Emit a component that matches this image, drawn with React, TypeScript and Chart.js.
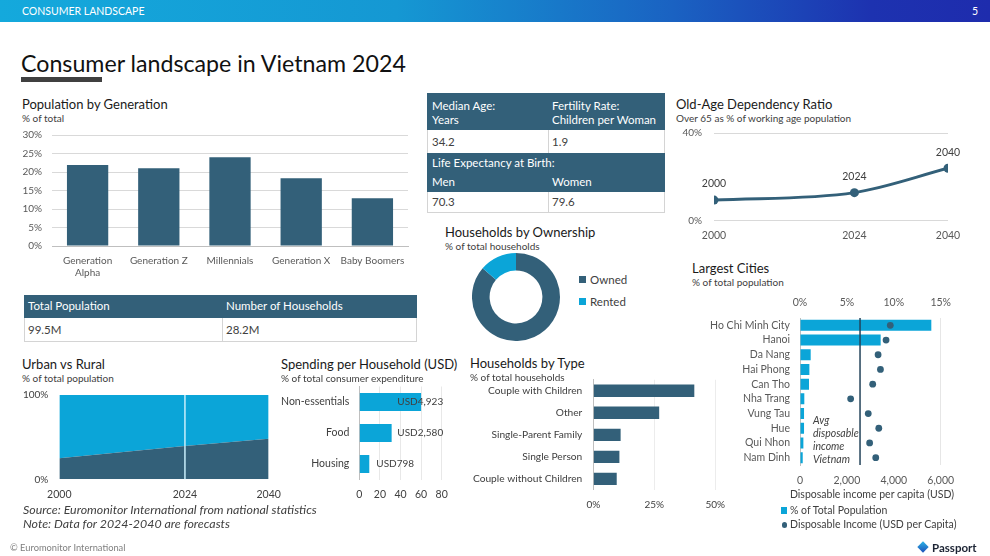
import React, { useEffect, useRef } from 'react';
import { Chart, registerables } from 'chart.js';

Chart.register(...registerables);

const FONT = 'Lato, "Open Sans", "DejaVu Sans", sans-serif';
Chart.defaults.font.family = FONT;
Chart.defaults.color = '#595959';

const DARK = '#336079';
const LIGHT = '#0ba5d8';
const GRID = '#d9d9d9';
const AXIS = '#bfbfbf';

// ---- Population by Generation (% of total) ----
const genCategories: (string | string[])[] = [['Generation', 'Alpha'], 'Generation Z', 'Millennials', 'Generation X', 'Baby Boomers'];
const genShare = [21.9, 21.0, 24.0, 18.3, 12.9];

// ---- Key statistics ----
const medianAge = '34.2';
const fertilityRate = '1.9';
const lifeExpMen = '70.3';
const lifeExpWomen = '79.6';
const totalPopulation = '99.5M';
const numHouseholds = '28.2M';

// ---- Old-age dependency ratio (%) ----
const oadYears = [2000, 2024, 2040];
const oadRatio = [9.4, 12.8, 23.9];

// ---- Households by ownership (%) ----
const ownLabels = ['Owned', 'Rented'];
const ownShare = [86.3, 13.7];

// ---- Largest cities ----
const cityNames = ['Ho Chi Minh City', 'Hanoi', 'Da Nang', 'Hai Phong', 'Can Tho', 'Nha Trang', 'Vung Tau', 'Hue', 'Qui Nhon', 'Nam Dinh'];
const cityPopShare = [14.0, 8.6, 1.14, 1.0, 0.96, 0.46, 0.43, 0.43, 0.36, 0.29];
const cityIncome = [3850, 3670, 3330, 3430, 3100, 2160, 2910, 3360, 2970, 3230];
const avgIncome = 2560;

// ---- Urban vs Rural (% of total population) ----
const urYears = [2000, 2024, 2040];
const urbanShare = [25.0, 39.5, 48.2];
const ruralShare = [75.0, 60.5, 51.8];
const forecastStart = 2024;

// ---- Spending per household ----
const spendCategories = ['Non-essentials', 'Food', 'Housing'];
const spendShare = [60.0, 31.4, 9.7];
const spendUSD = ['USD4,923', 'USD2,580', 'USD798'];

// ---- Households by type (%) ----
const hhTypes = ['Couple with Children', 'Other', 'Single-Parent Family', 'Single Person', 'Couple without Children'];
const hhShare = [41.4, 27.0, 11.2, 10.7, 9.6];

const tf = (size = 10) => ({ family: FONT, size });
const zeroPad = (s: any) => { s.paddingTop = 0; s.paddingBottom = 0; s.paddingLeft = 0; s.paddingRight = 0; };
const setW = (w: number) => (s: any) => { s.width = w; zeroPad(s); };
const setH = (h: number) => (s: any) => { s.height = h; zeroPad(s); };
const base = (pad: any) => ({
  animation: false,
  responsive: false,
  devicePixelRatio: 1,
  events: [],
  layout: { padding: pad },
  plugins: { legend: { display: false }, tooltip: { enabled: false } },
});
const NOGRID = { display: false, drawTicks: false };

function ChartBox({ x, y, w, h, make }: { x: number; y: number; w: number; h: number; make: () => any }) {
  const ref = useRef<HTMLCanvasElement>(null);
  useEffect(() => {
    const chart = new Chart(ref.current as HTMLCanvasElement, make());
    return () => chart.destroy();
  }, []);
  return (
    <div style={{ position: 'absolute', left: x, top: y, width: w, height: h }}>
      <canvas ref={ref} width={w} height={h} style={{ width: w, height: h, display: 'block' }} />
    </div>
  );
}

function T({ x, y, s = 10, c = '#404040', it = false, center = false, bold = false, children }: any) {
  return (
    <div
      style={{
        position: 'absolute',
        left: x,
        top: y - s * 0.65,
        fontSize: s,
        lineHeight: `${s * 1.3}px`,
        color: c,
        fontStyle: it ? 'italic' : 'normal',
        fontWeight: bold ? 700 : 400,
        whiteSpace: 'nowrap',
        transform: center ? 'translateX(-50%)' : undefined,
      }}
    >
      {children}
    </div>
  );
}

function Box({ x, y, w, h, bg = 'transparent', border }: any) {
  return <div style={{ position: 'absolute', left: x, top: y, width: w, height: h, background: bg, boxSizing: 'border-box', ...(border || {}) }} />;
}

// ---------- chart configs ----------
const popConfig = () => ({
  type: 'bar',
  data: { labels: genCategories, datasets: [{ data: genShare, backgroundColor: DARK, categoryPercentage: 1, barPercentage: 0.58 }] },
  options: {
    ...base({ left: 0, right: 12, top: 10, bottom: 0 }),
    scales: {
      x: {
        grid: NOGRID,
        border: { color: AXIS },
        ticks: { font: tf(10), color: '#595959', padding: 9, maxRotation: 0, autoSkip: false },
        afterFit: setH(39),
      },
      y: {
        min: 0,
        max: 30,
        ticks: { stepSize: 5, callback: (v: number) => v + '%', font: tf(10), color: '#595959', padding: 10 },
        grid: { color: GRID, drawTicks: false },
        border: { display: false },
        afterFit: setW(52),
      },
    },
  },
});

const pointLabelPlugin = {
  id: 'pointLabels',
  afterDatasetsDraw(chart: any) {
    const ctx = chart.ctx;
    const meta = chart.getDatasetMeta(0);
    ctx.save();
    ctx.font = `10.5px ${FONT}`;
    ctx.fillStyle = '#404040';
    ctx.textAlign = 'center';
    ctx.textBaseline = 'middle';
    meta.data.forEach((p: any, i: number) => ctx.fillText(String(oadYears[i]), p.x, p.y - 16));
    ctx.restore();
  },
};

const oadConfig = () => ({
  type: 'line',
  data: {
    datasets: [
      {
        data: oadYears.map((x, i) => ({ x, y: oadRatio[i] })),
        borderColor: DARK,
        backgroundColor: DARK,
        borderWidth: 3,
        pointRadius: 4.5,
        pointBorderWidth: 0,
        cubicInterpolationMode: 'monotone',
      },
    ],
  },
  options: {
    ...base({ left: 0, right: 42, top: 8, bottom: 0 }),
    scales: {
      x: {
        type: 'linear',
        min: 2000,
        max: 2040,
        afterBuildTicks: (s: any) => { s.ticks = oadYears.map((v) => ({ value: v })); },
        ticks: { callback: (v: number) => String(v), font: tf(10.5), color: '#595959', padding: 9 },
        grid: NOGRID,
        border: { display: false },
        afterFit: setH(24.3),
      },
      y: {
        min: 0,
        max: 40,
        ticks: { stepSize: 40, callback: (v: number) => v + '%', font: tf(10), color: '#595959', padding: 12 },
        grid: { color: GRID, drawTicks: false },
        border: { display: false },
        afterFit: setW(44),
      },
    },
  },
  plugins: [pointLabelPlugin],
});

const ownConfig = () => ({
  type: 'doughnut',
  data: { labels: ownLabels, datasets: [{ data: ownShare, backgroundColor: [DARK, LIGHT], borderWidth: 0 }] },
  options: { ...base({ left: 0, right: 0, top: 0, bottom: 0 }), cutout: '60%' },
});

const avgLinePlugin = {
  id: 'avgLine',
  afterDatasetsDraw(chart: any) {
    const { ctx, chartArea } = chart;
    const x = chart.scales.x2.getPixelForValue(avgIncome);
    ctx.save();
    ctx.strokeStyle = '#23435a';
    ctx.lineWidth = 1.5;
    ctx.beginPath();
    ctx.moveTo(x, chartArea.top);
    ctx.lineTo(x, chartArea.bottom);
    ctx.stroke();
    ctx.restore();
  },
};

const cityConfig = () => ({
  type: 'bar',
  data: {
    labels: cityNames,
    datasets: [
      { type: 'bar', data: cityPopShare, backgroundColor: LIGHT, xAxisID: 'x', yAxisID: 'y', categoryPercentage: 1, barPercentage: 0.75, order: 2 },
      {
        type: 'line',
        indexAxis: 'y',
        data: cityIncome,
        xAxisID: 'x2',
        yAxisID: 'y',
        showLine: false,
        pointRadius: 3.4,
        pointBorderWidth: 0,
        pointBackgroundColor: DARK,
        borderColor: DARK,
        backgroundColor: DARK,
        order: 1,
      },
    ],
  },
  options: {
    ...base({ left: 0, right: 49.3, top: 0, bottom: 0 }),
    indexAxis: 'y',
    scales: {
      x: {
        position: 'top',
        min: 0,
        max: 15,
        ticks: { stepSize: 5, callback: (v: number) => v + '%', font: tf(10.5), color: '#595959', padding: 9 },
        grid: { drawTicks: false, color: (c: any) => (c.index === 3 ? '#e6e6e6' : 'rgba(0,0,0,0)') },
        border: { display: false },
        afterFit: setH(26),
      },
      x2: {
        position: 'bottom',
        min: 0,
        max: 6000,
        ticks: { stepSize: 2000, callback: (v: number) => v.toLocaleString('en-US'), font: tf(10.5), color: '#595959', padding: 9 },
        grid: NOGRID,
        border: { display: false },
        afterFit: setH(27),
      },
      y: {
        grid: NOGRID,
        border: { color: AXIS },
        ticks: { font: tf(10.5), color: '#595959', padding: 10, autoSkip: false },
        afterFit: setW(110),
      },
    },
  },
  plugins: [avgLinePlugin],
});

const forecastLinePlugin = {
  id: 'forecastLine',
  afterDatasetsDraw(chart: any) {
    const { ctx, chartArea } = chart;
    const x = chart.scales.x.getPixelForValue(forecastStart);
    ctx.save();
    ctx.strokeStyle = '#c8eefb';
    ctx.lineWidth = 1.5;
    ctx.beginPath();
    ctx.moveTo(x, chartArea.top);
    ctx.lineTo(x, chartArea.bottom);
    ctx.stroke();
    ctx.restore();
  },
};

const urbanConfig = () => ({
  type: 'line',
  data: {
    datasets: [
      { label: 'Urban', data: urYears.map((x, i) => ({ x, y: urbanShare[i] })), fill: 'origin', backgroundColor: DARK, borderColor: DARK, borderWidth: 0, pointRadius: 0, tension: 0 },
      { label: 'Rural', data: urYears.map((x, i) => ({ x, y: ruralShare[i] })), fill: '-1', backgroundColor: LIGHT, borderColor: LIGHT, borderWidth: 0, pointRadius: 0, tension: 0 },
    ],
  },
  options: {
    ...base({ left: 0, right: 21.3, top: 10, bottom: 0 }),
    scales: {
      x: {
        type: 'linear',
        min: 2000,
        max: 2040,
        afterBuildTicks: (s: any) => { s.ticks = urYears.map((v) => ({ value: v })); },
        ticks: { callback: (v: number) => String(v), font: tf(10.5), color: '#404040', padding: 9 },
        grid: NOGRID,
        border: { display: false },
        afterFit: setH(25.7),
      },
      y: {
        stacked: true,
        min: 0,
        max: 100,
        ticks: { stepSize: 100, callback: (v: number) => v + '%', font: tf(10), color: '#404040', padding: 11 },
        grid: NOGRID,
        border: { display: false },
        afterFit: setW(59.3),
      },
    },
  },
  plugins: [forecastLinePlugin],
});

const spendLabelPlugin = {
  id: 'spendLabels',
  afterDatasetsDraw(chart: any) {
    const { ctx, chartArea } = chart;
    const meta = chart.getDatasetMeta(0);
    ctx.save();
    ctx.font = `10px ${FONT}`;
    ctx.fillStyle = '#404040';
    ctx.textAlign = 'left';
    ctx.textBaseline = 'middle';
    meta.data.forEach((b: any, i: number) => {
      const t = spendUSD[i];
      const w = ctx.measureText(t).width;
      const x = Math.min(b.x + 7, chartArea.right + 1.5 - w);
      ctx.fillText(t, x, b.y);
    });
    ctx.restore();
  },
};

const spendConfig = () => ({
  type: 'bar',
  data: { labels: spendCategories, datasets: [{ data: spendShare, backgroundColor: LIGHT, categoryPercentage: 1, barPercentage: 0.58 }] },
  options: {
    ...base({ left: 0, right: 18.3, top: 6.5, bottom: 0 }),
    indexAxis: 'y',
    scales: {
      x: {
        min: 0,
        max: 80,
        ticks: { stepSize: 20, font: tf(10.5), color: '#404040', padding: 9 },
        grid: { color: '#e8e8e8', drawTicks: false },
        border: { display: false },
        afterFit: setH(25.5),
      },
      y: {
        grid: NOGRID,
        border: { color: AXIS },
        ticks: { font: tf(10.5), color: '#404040', padding: 10, autoSkip: false },
        afterFit: setW(79.3),
      },
    },
  },
  plugins: [spendLabelPlugin],
});

const hhConfig = () => ({
  type: 'bar',
  data: { labels: hhTypes, datasets: [{ data: hhShare, backgroundColor: DARK, categoryPercentage: 1, barPercentage: 0.565 }] },
  options: {
    ...base({ left: 0, right: 9.7, top: 4.8, bottom: 0 }),
    indexAxis: 'y',
    scales: {
      x: {
        min: 0,
        max: 50,
        ticks: { stepSize: 25, callback: (v: number) => v + '%', font: tf(10), color: '#404040', padding: 9 },
        grid: { color: '#ececec', drawTicks: false },
        border: { display: false },
        afterFit: setH(25.1),
      },
      y: {
        grid: NOGRID,
        border: { color: AXIS },
        ticks: { font: tf(10.2), color: '#404040', padding: 11, autoSkip: false },
        afterFit: setW(128.3),
      },
    },
  },
});

const TITLE = '#1a1a1a';
const SUB = '#404040';

export default function App() {
  const tbl = 11.5;
  const sub = 10;
  const cellBorder = '1px solid #d4d4d4';
  return (
    <div style={{ position: 'fixed', left: 0, top: 0, width: 990, height: 556, background: '#fff', fontFamily: FONT, overflow: 'hidden' }}>
      {/* header bar */}
      <div style={{ position: 'absolute', left: 0, top: 0, width: 990, height: 22, background: 'linear-gradient(90deg, #14a9dc 0%, #1598d3 40%, #1a62c2 68%, #1d32b0 88%, #1e2cad 100%)' }} />
      <T x={22} y={11.5} s={10.5} c="#ffffff">CONSUMER LANDSCAPE</T>
      <T x={972} y={11.5} s={10.5} c="#ffffff">5</T>

      <T x={21} y={63} s={23.2} c="#111111">Consumer landscape in Vietnam 2024</T>
      <Box x={21} y={77} w={81} h={5} bg="#404040" />

      {/* Population by Generation */}
      <T x={22} y={104} s={13} c={TITLE}>Population by Generation</T>
      <T x={22} y={118} s={sub} c={SUB}>% of total</T>
      <ChartBox x={0} y={125} w={420} h={160} make={popConfig} />

      {/* Top stats table */}
      <Box x={427} y={93} w={238} h={37} bg={DARK} />
      <T x={432} y={106} s={tbl} c="#fff">Median Age:</T>
      <T x={432} y={120} s={tbl} c="#fff">Years</T>
      <T x={552} y={106} s={tbl} c="#fff">Fertility Rate:</T>
      <T x={552} y={120} s={tbl} c="#fff">Children per Woman</T>
      <Box x={427} y={130} w={238} h={23} border={{ borderLeft: cellBorder, borderRight: cellBorder }} />
      <Box x={548} y={130} w={1} h={23} bg="#d4d4d4" />
      <T x={432} y={142} s={tbl} c={SUB}>{medianAge}</T>
      <T x={552} y={142} s={tbl} c={SUB}>{fertilityRate}</T>
      <Box x={427} y={153} w={238} h={39} bg={DARK} />
      <T x={432} y={163} s={tbl} c="#fff">Life Expectancy at Birth:</T>
      <T x={432} y={182} s={tbl} c="#fff">Men</T>
      <T x={552} y={182} s={tbl} c="#fff">Women</T>
      <Box x={427} y={192} w={238} h={21} border={{ borderLeft: cellBorder, borderRight: cellBorder, borderBottom: cellBorder }} />
      <Box x={548} y={192} w={1} h={21} bg="#d4d4d4" />
      <T x={432} y={202} s={tbl} c={SUB}>{lifeExpMen}</T>
      <T x={552} y={202} s={tbl} c={SUB}>{lifeExpWomen}</T>

      {/* Old-Age Dependency Ratio */}
      <T x={676} y={104} s={13} c={TITLE}>Old-Age Dependency Ratio</T>
      <T x={676} y={118} s={sub} c={SUB}>Over 65 as % of working age population</T>
      <ChartBox x={670} y={125} w={320} h={120} make={oadConfig} />

      {/* Households by Ownership */}
      <T x={445} y={232} s={13} c={TITLE}>Households by Ownership</T>
      <T x={445} y={246} s={sub} c={SUB}>% of total households</T>
      <ChartBox x={472} y={253} w={88} h={88} make={ownConfig} />
      <Box x={579} y={276} w={7} h={7} bg={DARK} />
      <T x={590} y={280} s={11.5} c={SUB}>{ownLabels[0]}</T>
      <Box x={579} y={298} w={7} h={7} bg={LIGHT} />
      <T x={590} y={302} s={11.5} c={SUB}>{ownLabels[1]}</T>

      {/* Largest Cities */}
      <T x={692} y={268} s={13} c={TITLE}>Largest Cities</T>
      <T x={692} y={282} s={sub} c={SUB}>% of total population</T>
      <ChartBox x={690} y={292} w={300} h={200} make={cityConfig} />
      <T x={813} y={421} s={10.5} it c={SUB}>Avg</T>
      <T x={813} y={434} s={10.5} it c={SUB}>disposable</T>
      <T x={813} y={447} s={10.5} it c={SUB}>income</T>
      <T x={813} y={460} s={10.5} it c={SUB}>Vietnam</T>
      <T x={872} y={495} s={10.5} c={SUB} center>Disposable income per capita (USD)</T>
      <Box x={781} y={507} w={6} h={7} bg={LIGHT} />
      <T x={790} y={510.5} s={10.5} c={SUB}>% of Total Population</T>
      <div style={{ position: 'absolute', left: 781.5, top: 522, width: 5.5, height: 5.5, borderRadius: '50%', background: DARK }} />
      <T x={790} y={525} s={10.5} c={SUB}>Disposable Income (USD per Capita)</T>

      {/* Bottom-left table */}
      <Box x={24} y={295} w={393} h={23} bg={DARK} />
      <T x={28} y={306.5} s={tbl} c="#fff">Total Population</T>
      <T x={226} y={306.5} s={tbl} c="#fff">Number of Households</T>
      <Box x={24} y={318} w={393} h={24} border={{ borderLeft: cellBorder, borderRight: cellBorder, borderBottom: cellBorder }} />
      <Box x={222} y={318} w={1} h={24} bg="#d4d4d4" />
      <T x={28} y={330} s={tbl} c={SUB}>{totalPopulation}</T>
      <T x={226} y={330} s={tbl} c={SUB}>{numHouseholds}</T>

      {/* Urban vs Rural */}
      <T x={22} y={364} s={13} c={TITLE}>Urban vs Rural</T>
      <T x={22} y={378} s={sub} c={SUB}>% of total population</T>
      <ChartBox x={0} y={385} w={290} h={120} make={urbanConfig} />

      {/* Spending */}
      <T x={281} y={364} s={13} c={TITLE}>Spending per Household (USD)</T>
      <T x={281} y={378} s={sub} c={SUB}>% of total consumer expenditure</T>
      <ChartBox x={280} y={380} w={180} h={125} make={spendConfig} />

      {/* Households by Type */}
      <T x={470} y={363} s={13} c={TITLE}>Households by Type</T>
      <T x={470} y={377} s={sub} c={SUB}>% of total households</T>
      <ChartBox x={465} y={375} w={260} h={140} make={hhConfig} />

      {/* Source */}
      <T x={23} y={510} s={12.4} it c={SUB}>Source: Euromonitor International from national statistics</T>
      <T x={23} y={524} s={12.4} it c={SUB}>Note: Data for 2024-2040 are forecasts</T>

      {/* Footer */}
      <T x={10} y={548} s={9.3} c="#7f7f7f">© Euromonitor International</T>
      <div style={{ position: 'absolute', left: 919, top: 543, width: 8, height: 8, background: 'linear-gradient(135deg, #2bb3e6, #1d4fb8)', transform: 'rotate(45deg)' }} />
      <T x={932} y={548} s={11.5} c="#1b2333" bold>Passport</T>
    </div>
  );
}
